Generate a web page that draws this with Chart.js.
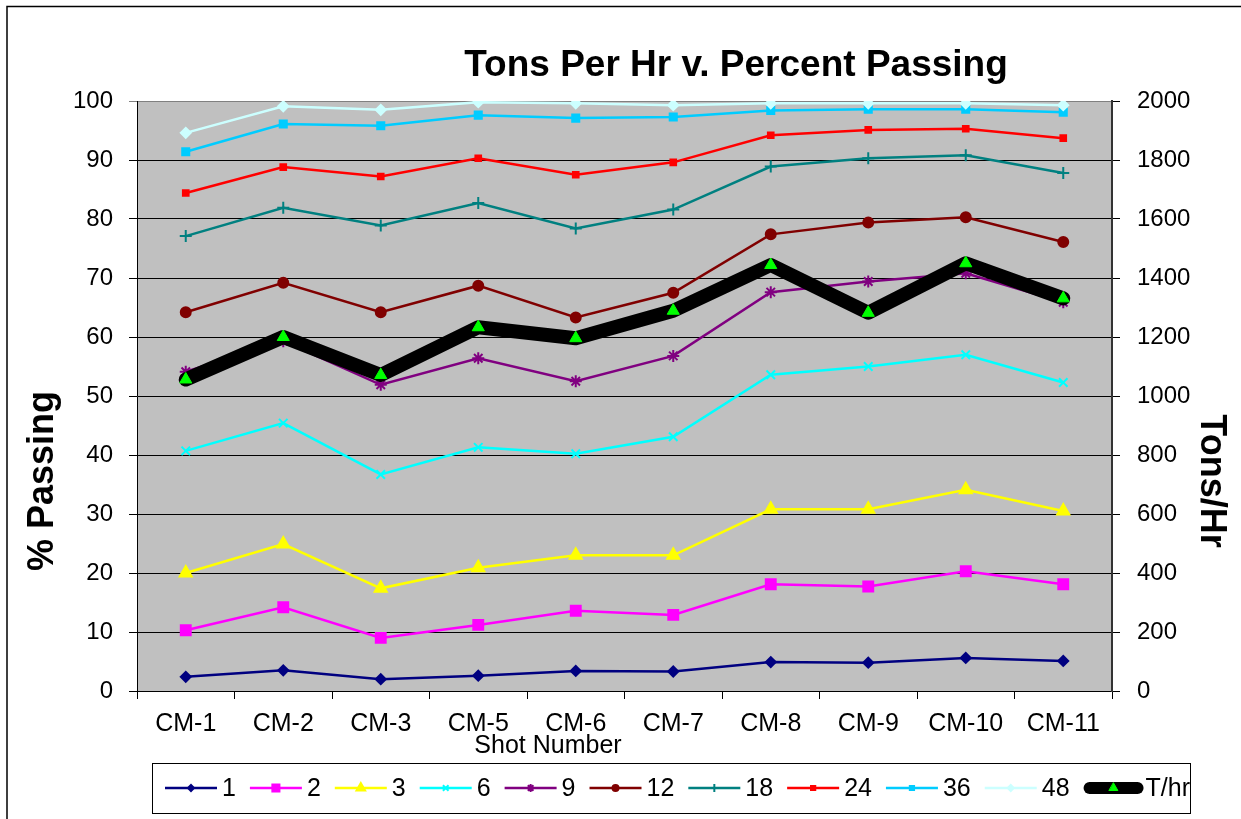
<!DOCTYPE html>
<html>
<head>
<meta charset="utf-8">
<script src="https://cdn.jsdelivr.net/npm/chart.js@4/dist/chart.umd.min.js"></script>
<style>
  html, body { margin: 0; padding: 0; background: #fff; }
  #wrap { width: 1241px; height: 819px; }
</style>
</head>
<body>
<div id="wrap"><canvas id="tph-chart" width="1241" height="819"></canvas></div>
<script>
// shots along the x axis
const shots = ['CM-1', 'CM-2', 'CM-3', 'CM-5', 'CM-6', 'CM-7', 'CM-8', 'CM-9', 'CM-10', 'CM-11'];

// percent passing per screen size
const pass1  = [2.4, 3.5, 2.0, 2.6, 3.4, 3.3, 4.9, 4.8, 5.6, 5.1];
const pass2  = [10.3, 14.2, 9.0, 11.2, 13.6, 12.9, 18.1, 17.7, 20.3, 18.1];
const pass3  = [20.0, 24.9, 17.4, 20.9, 23.0, 23.0, 30.8, 30.8, 34.1, 30.5];
const pass6  = [40.7, 45.4, 36.7, 41.3, 40.2, 43.1, 53.6, 55.0, 57.0, 52.3];
const pass9  = [54.1, 59.3, 51.9, 56.4, 52.5, 56.8, 67.6, 69.4, 70.8, 65.9];
const pass12 = [64.2, 69.2, 64.2, 68.7, 63.3, 67.5, 77.4, 79.4, 80.3, 76.1];
const pass18 = [77.1, 81.9, 78.9, 82.7, 78.4, 81.6, 88.9, 90.3, 90.8, 87.8];
const pass24 = [84.4, 88.8, 87.2, 90.3, 87.5, 89.6, 94.2, 95.1, 95.3, 93.7];
const pass36 = [91.4, 96.1, 95.8, 97.6, 97.1, 97.3, 98.4, 98.6, 98.6, 98.1];
const pass48 = [94.6, 99.1, 98.5, 99.8, 99.6, 99.3, 99.6, 99.6, 99.6, 99.3];

// throughput, right axis
const tonsPerHr = [1056, 1200, 1071, 1233, 1196, 1289, 1444, 1282, 1450, 1331];

const sizeLabels = ['1', '2', '3', '6', '9', '12', '18', '24', '36', '48'];
const passSeries = [pass1, pass2, pass3, pass6, pass9, pass12, pass18, pass24, pass36, pass48];

const FONT = "'Liberation Sans', Arial, sans-serif";

const seriesStyles = [
    { color: '#000080', point: 'rectRot', r: 5 },
    { color: '#ff00ff', point: 'rect', r: 7 },
    { color: '#ffff00', point: 'triangle', r: 7 },
    { color: '#00ffff', point: 'crossRot', r: 6 },
    { color: '#800080', point: 'star', r: 6 },
    { color: '#800000', point: 'circle', r: 5 },
    { color: '#008080', point: 'cross', r: 6 },
    { color: '#ff0000', point: 'rect', r: 4 },
    { color: '#00ccff', point: 'rect', r: 5 },
    { color: '#ccffff', point: 'rectRot', r: 5 }
];

const datasets = passSeries.map((vals, i) => ({
    label: sizeLabels[i],
    data: vals,
    yAxisID: 'y',
    borderColor: seriesStyles[i].color,
    backgroundColor: seriesStyles[i].color,
    borderWidth: 2.5,
    pointStyle: seriesStyles[i].point,
    pointRadius: seriesStyles[i].r,
    pointBorderWidth: 2,
    pointBackgroundColor: seriesStyles[i].color,
    pointBorderColor: seriesStyles[i].color,
    tension: 0,
    order: 20 - i
}));

datasets.push({
    label: 'T/hr',
    data: tonsPerHr,
    yAxisID: 'y2',
    borderColor: '#000000',
    backgroundColor: '#000000',
    borderWidth: 14,
    borderCapStyle: 'round',
    borderJoinStyle: 'round',
    pointStyle: 'triangle',
    pointRadius: 7,
    pointBorderWidth: 1,
    pointBackgroundColor: '#00ff00',
    pointBorderColor: '#00ff00',
    tension: 0,
    order: 0
});

// frame, titles and legend drawn straight onto the canvas
const chartDecor = {
    id: 'chartDecor',
    beforeDraw(chart) {
        const { ctx, chartArea: a } = chart;
        ctx.save();
        ctx.fillStyle = '#c0c0c0';
        ctx.fillRect(a.left, a.top, a.right - a.left, a.bottom - a.top);
        ctx.restore();
    },
    afterDraw(chart) {
        const ctx = chart.ctx;
        ctx.save();

        // outer frame
        ctx.strokeStyle = '#000';
        ctx.lineWidth = 1.5;
        ctx.beginPath();
        ctx.moveTo(7, 819);
        ctx.lineTo(7, 6.5);
        ctx.lineTo(1241, 6.5);
        ctx.stroke();

        ctx.fillStyle = '#000';
        ctx.textAlign = 'center';
        ctx.textBaseline = 'alphabetic';

        ctx.font = 'bold 37px ' + FONT;
        ctx.fillText('Tons Per Hr v. Percent Passing', 736, 76);

        ctx.font = '25px ' + FONT;
        ctx.fillText('Shot Number', 548, 753);

        ctx.font = 'bold 36px ' + FONT;
        ctx.save();
        ctx.translate(53, 481);
        ctx.rotate(-Math.PI / 2);
        ctx.fillText('% Passing', 0, 0);
        ctx.restore();

        ctx.save();
        ctx.translate(1201, 481);
        ctx.rotate(Math.PI / 2);
        ctx.fillText('Tons/Hr', 0, 0);
        ctx.restore();

        // legend
        ctx.strokeStyle = '#000';
        ctx.lineWidth = 1;
        ctx.strokeRect(152.5, 763.5, 1038, 50);

        ctx.font = '25px ' + FONT;
        ctx.textAlign = 'left';
        ctx.textBaseline = 'middle';
        let x = 165;
        const ly = 788;
        chart.data.datasets.forEach((ds, i) => {
            const thick = ds.borderWidth > 5;
            const len = thick ? 60 : 52;
            ctx.save();
            ctx.strokeStyle = ds.borderColor;
            ctx.lineWidth = thick ? 12 : 2.5;
            ctx.lineCap = thick ? 'round' : 'butt';
            ctx.beginPath();
            ctx.moveTo(x + (thick ? 6 : 0), ly);
            ctx.lineTo(x + len - (thick ? 6 : 0), ly);
            ctx.stroke();
            ctx.fillStyle = ds.pointBackgroundColor;
            ctx.strokeStyle = ds.pointBorderColor;
            ctx.lineWidth = ds.pointBorderWidth;
            Chart.helpers.drawPoint(ctx, {
                pointStyle: ds.pointStyle,
                radius: Math.max(3, ds.pointRadius - 2),
                rotation: 0,
                borderWidth: ds.pointBorderWidth
            }, x + len / 2, ly);
            ctx.restore();
            x += len + (thick ? 2 : 5);
            ctx.fillStyle = '#000';
            ctx.fillText(ds.label, x, ly + 1);
            x += ctx.measureText(ds.label).width + 14;
        });

        ctx.restore();
    }
};

new Chart(document.getElementById('tph-chart').getContext('2d'), {
    type: 'line',
    data: { labels: shots, datasets: datasets },
    options: {
        responsive: false,
        animation: false,
        layout: { padding: { top: 101, left: 0, right: 0, bottom: 0 } },
        plugins: {
            legend: { display: false },
            title: { display: false },
            tooltip: { enabled: false }
        },
        scales: {
            x: {
                offset: true,
                grid: { offset: true, drawOnChartArea: false, color: '#000', tickLength: 8 },
                border: { color: '#000', width: 1 },
                ticks: { color: '#000', padding: 10, font: { family: FONT, size: 25 }, maxRotation: 0, autoSkip: false },
                afterFit(scale) { scale.height = 128; }
            },
            y: {
                position: 'left',
                min: 0,
                max: 100,
                grid: {
                    color: ctx => ctx.tick && ctx.tick.value === 100 ? '#808080' : '#000',
                    tickLength: 8,
                    lineWidth: 1
                },
                border: { color: '#000', width: 1 },
                ticks: { stepSize: 10, color: '#000', padding: 16, font: { family: FONT, size: 24 } },
                afterFit(scale) { scale.width = 137; }
            },
            y2: {
                position: 'right',
                min: 0,
                max: 2000,
                grid: { drawOnChartArea: false, color: '#000', tickLength: 8 },
                border: { color: '#333', width: 2 },
                ticks: {
                    stepSize: 200,
                    color: '#000',
                    padding: 17,
                    font: { family: FONT, size: 24 },
                    callback: v => String(v)
                },
                afterFit(scale) { scale.width = 129; }
            }
        }
    },
    plugins: [chartDecor]
});
</script>
</body>
</html>
